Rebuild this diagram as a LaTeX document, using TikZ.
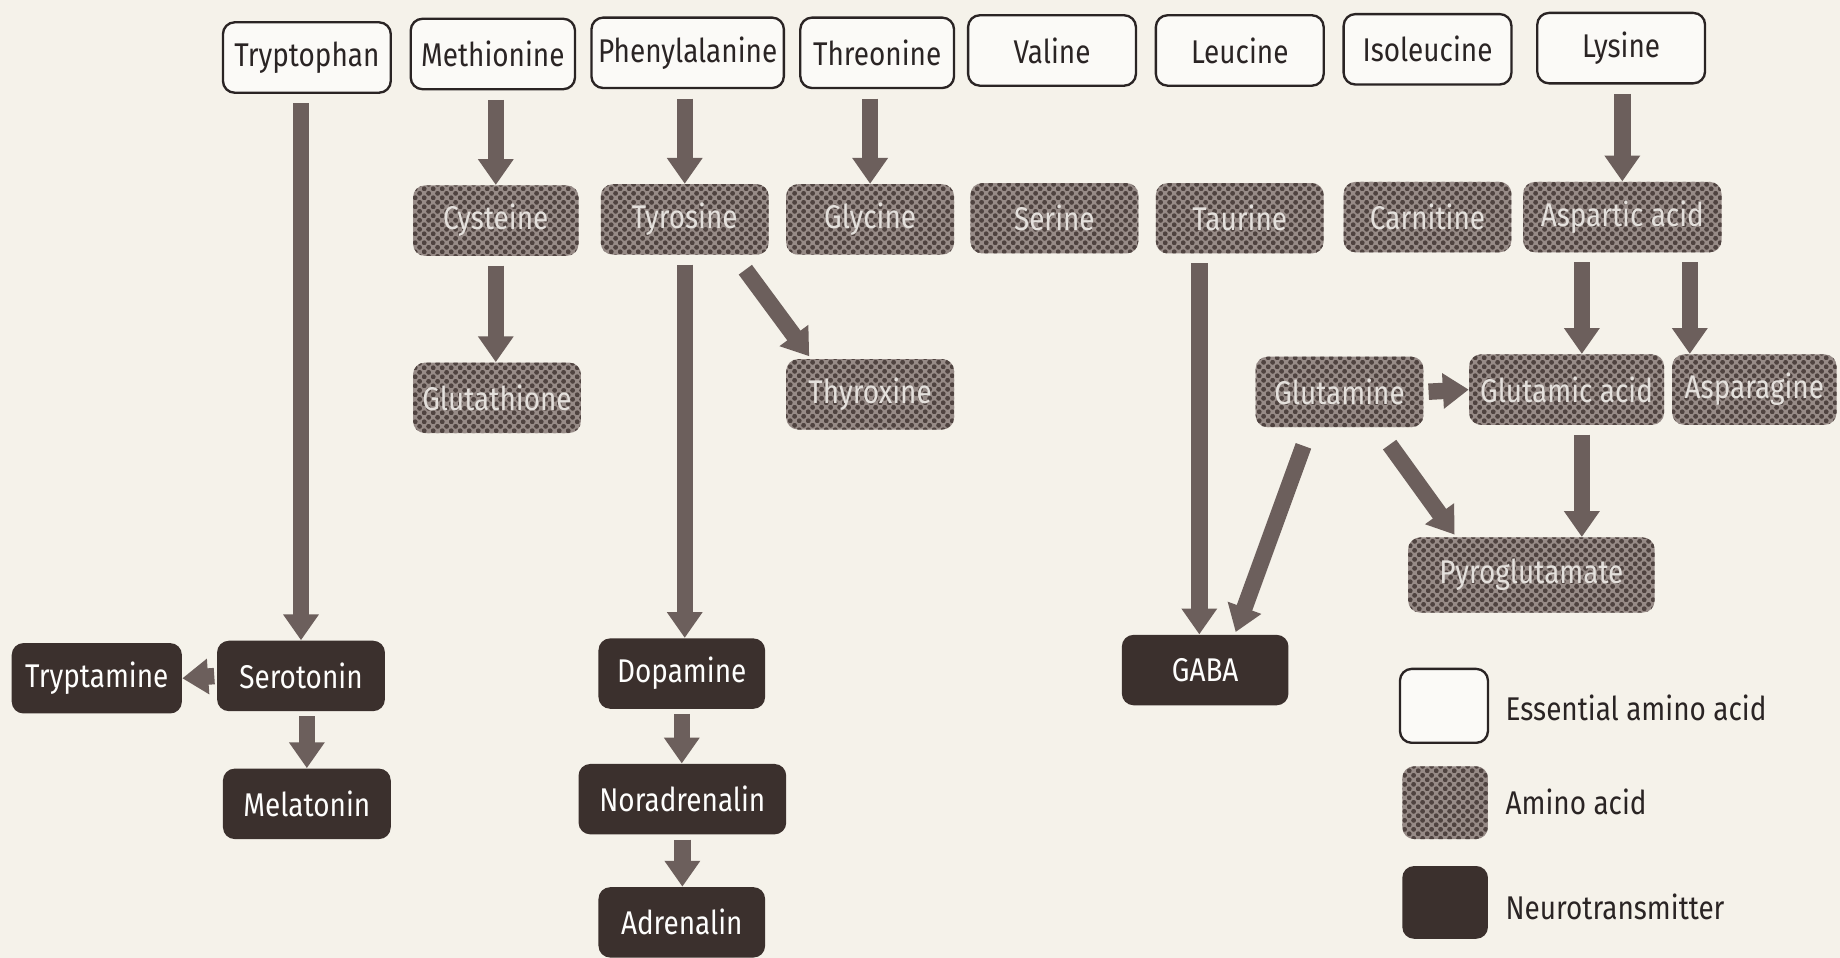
\documentclass[tikz,border=0pt]{standalone}
\usepackage{fontspec}
\setmainfont{Fira Sans}[FakeStretch=0.85]
\usetikzlibrary{arrows.meta,patterns,calc}
\definecolor{bg}{HTML}{F5F2EA}
\definecolor{neu}{HTML}{3B302D}
\definecolor{ami}{HTML}{978B87}
\definecolor{amidark}{HTML}{4F4340}
\definecolor{arrc}{HTML}{6C5F5C}
\definecolor{ink}{HTML}{2A2424}
\definecolor{amitext}{HTML}{E4E0DC}
\pgfdeclarepatternformonly{amidots}{\pgfpointorigin}{\pgfqpoint{4pt}{4pt}}{\pgfqpoint{4pt}{4pt}}{%
  \pgfpathcircle{\pgfqpoint{1pt}{1pt}}{1.1pt}%
  \pgfpathcircle{\pgfqpoint{3pt}{3pt}}{1.1pt}%
  \pgfusepath{fill}}
\begin{document}
\begin{tikzpicture}[x=0.5pt,y=-0.5pt,
 box/.style={rounded corners=5pt, minimum width=71.5pt, minimum height=30pt, inner sep=1pt, font=\fontsize{14}{16}\selectfont},
 ess/.style={box, draw=ink, line width=1pt, fill=white!60!bg, text=ink},
 ami/.style={box, fill=ami, postaction={pattern=amidots, pattern color=amidark}, text=amitext},
 neu/.style={box, fill=neu, text=white!92!bg},
 arr/.style={draw=arrc, line width=7pt, -{Triangle[width=14.5pt,length=11pt]}, shorten <=4pt},
 legtext/.style={anchor=west, text=ink, font=\fontsize{14}{16}\selectfont},
]
\useasboundingbox (0,0) rectangle (1568,816);
\fill[bg] (0,0) rectangle (1568,816);

% essential amino acids
\node[ess] (trp) at (261.5,49) {Tryptophan};
\node[ess, minimum width=70pt] (met) at (420,46) {Methionine};
\node[ess, minimum width=82pt] (phe) at (586,45) {Phenylalanine};
\node[ess, minimum width=65.5pt] (thr) at (747.5,45) {Threonine};
\node[ess] (val) at (896.5,43) {Valine};
\node[ess] (leu) at (1056.5,43) {Leucine};
\node[ess] (ile) at (1216.5,42) {Isoleucine};
\node[ess] (lys) at (1381.5,41) {Lysine};

% amino acids
\node[ami, minimum width=70.5pt] (cys) at (422.5,188) {Cysteine};
\node[ami] (tyr) at (583.5,187) {Tyrosine};
\node[ami] (gly) at (741.5,187) {Glycine};
\node[ami] (ser) at (898.5,186) {Serine};
\node[ami] (tau) at (1056.5,186) {Taurine};
\node[ami] (car) at (1216.5,185) {Carnitine};
\node[ami, minimum width=84.5pt] (asp) at (1382.5,185) {Aspartic acid};
\node[ami] (gsh) at (423.5,339) {Glutathione};
\node[ami] (thx) at (741.5,336) {Thyroxine};
\node[ami] (gln) at (1141.5,334) {Glutamine};
\node[ami, minimum width=83pt] (glu) at (1335,332) {Glutamic acid};
\node[ami, minimum width=70pt] (asn) at (1495,332) {Asparagine};
\node[ami, minimum width=105pt, minimum height=32pt] (pyro) at (1305,490) {Pyroglutamate};

% neurotransmitters
\node[neu, minimum width=72.5pt] (tpm) at (82.5,578) {Tryptamine};
\node[neu] (sero) at (256.5,576) {Serotonin};
\node[neu] (mel) at (261.5,685) {Melatonin};
\node[neu, minimum width=71pt] (dop) at (581,574) {Dopamine};
\node[neu, minimum width=88.5pt] (nor) at (581.5,681) {Noradrenalin};
\node[neu, minimum width=71pt] (adr) at (581,786) {Adrenalin};
\node[neu, minimum width=71pt] (gaba) at (1027,571) {GABA};

% helper columns
\coordinate (xtau) at (1022,0);
\coordinate (xglu) at (1348,0);
\coordinate (xasn) at (1440,0);

% arrows
\draw[arr] (sero.north |- trp.south) -- (sero.north);
\draw[arr] (cys.north |- met.south) -- (cys.north);
\draw[arr] (cys.south) -- (cys.south |- gsh.north);
\draw[arr] (tyr.north |- phe.south) -- (tyr.north);
\draw[arr] (tyr.south) -- (tyr.south |- dop.north);
\draw[arr] ($(tyr.south east)+(-25,6)$) -- ($(thx.north west)+(20,-2)$);
\draw[arr] (gly.north |- thr.south) -- (gly.north);
\draw[arr] (asp.north |- lys.south) -- (asp.north);
\draw[arr] (tau.south -| xtau) -- (gaba.north -| xtau);
\draw[arr] (asp.south -| xglu) -- (glu.north -| xglu);
\draw[arr] (asp.south -| xasn) -- (asn.north -| xasn);
\draw[arr, shorten <=2pt] (gln.east) -- (glu.west);
\draw[arr] ($(gln.south)+(-28,8)$) -- ($(gaba.north)+(26,-2)$);
\draw[arr] ($(gln.south)+(38,8)$) -- ($(pyro.north west)+(40,-2)$);
\draw[arr] (glu.south -| xglu) -- (pyro.north -| xglu);
\draw[arr, shorten <=1pt] (sero.west) -- (tpm.east);
\draw[arr, shorten <=2pt] (mel.north |- sero.south) -- (mel.north);
\draw[arr, shorten <=2pt] (dop.south) -- (dop.south |- nor.north);
\draw[arr, shorten <=2pt] (nor.south) -- (nor.south |- adr.north);

% legend
\node[ess, minimum width=37.5pt, minimum height=31.5pt] (lg1) at (1230.5,601.5) {};
\node[ami, minimum width=36.5pt, minimum height=31pt] (lg2) at (1231.5,684) {};
\node[neu, minimum width=36.5pt, minimum height=31pt] (lg3) at (1231.5,769) {};
\node[legtext] (lt1) at (1276,603) {Essential amino acid};
\node[legtext] (lt2) at (1276,683) {Amino acid};
\node[legtext] (lt3) at (1276,773) {Neurotransmitter};
\end{tikzpicture}
\end{document}
